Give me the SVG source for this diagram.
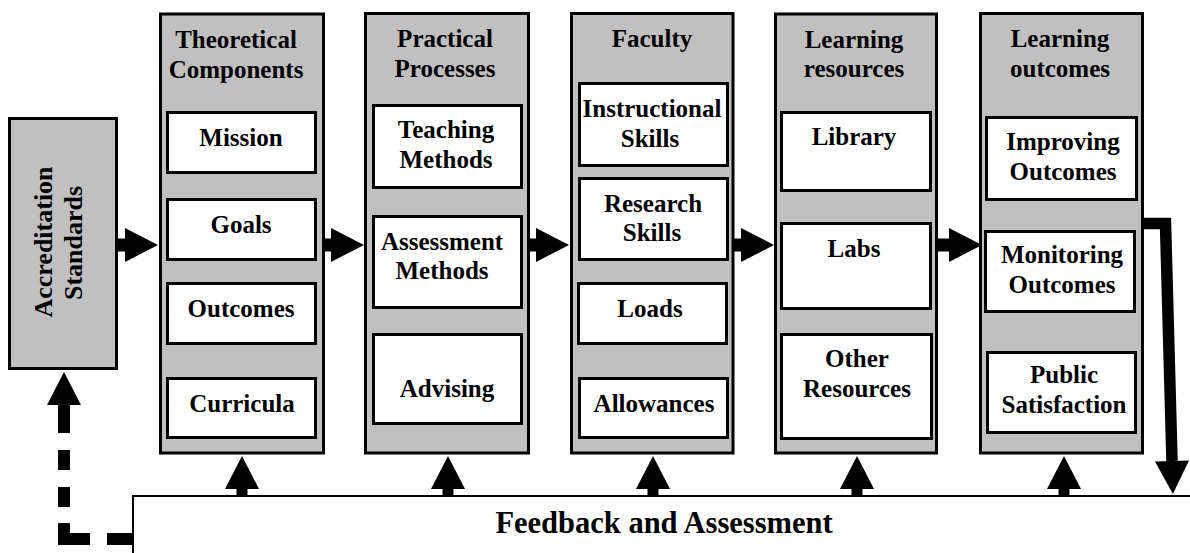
<svg xmlns="http://www.w3.org/2000/svg" width="1190" height="553" viewBox="0 0 1190 553">
  <defs>
    <style>
      .col { fill: #c0c0c0; stroke: #000; stroke-width: 3; }
      .item { fill: #fff; stroke: #000; stroke-width: 3; }
      .lbl { font-family: "Liberation Serif", "Times New Roman", serif; font-weight: bold; font-size: 25px; fill: #000; text-anchor: middle; }
      .big { font-size: 30.5px; }
      .std { font-size: 26px; }
      .flow { fill: none; stroke: #000; stroke-width: 13; stroke-linejoin: miter; marker-end: url(#head); }
      .up { fill: none; stroke: #000; stroke-width: 11; marker-end: url(#head); }
      .dash { fill: none; stroke: #000; stroke-width: 12; stroke-linecap: butt; stroke-linejoin: miter; }
    </style>
    <marker id="head" markerUnits="userSpaceOnUse" markerWidth="34" markerHeight="34" refX="0" refY="17" orient="auto" overflow="visible">
      <path d="M0,0 L33,17 L0,34 Z" fill="#000"/>
    </marker>
  </defs>

  <rect width="1190" height="553" fill="#fff"/>

  <!-- Feedback and Assessment (runs off the bottom/right edge) -->
  <g id="feedback">
    <rect x="133" y="496" width="1100" height="100" fill="#fff" stroke="#000" stroke-width="2"/>
    <text class="lbl big" x="664" y="533">Feedback and Assessment</text>
  </g>

  <!-- Accreditation Standards -->
  <g id="accreditation">
    <rect class="col" x="9.5" y="118.5" width="107" height="250"/>
    <text class="lbl std" transform="translate(52,242) rotate(-90)">Accreditation</text>
    <text class="lbl std" transform="translate(82,243) rotate(-90)">Standards</text>
  </g>

  <!-- Theoretical Components -->
  <g id="theoretical">
    <rect class="col" x="160.5" y="14" width="163" height="439"/>
    <text class="lbl" x="236" y="48">Theoretical</text>
    <text class="lbl" x="236" y="78">Components</text>
    <g id="mission"><rect class="item" x="167.5" y="112.5" width="148" height="60"/><text class="lbl" x="241" y="146">Mission</text></g>
    <g id="goals"><rect class="item" x="167.5" y="199.5" width="148" height="60"/><text class="lbl" x="241" y="233">Goals</text></g>
    <g id="outcomes"><rect class="item" x="167.5" y="283.5" width="148" height="60"/><text class="lbl" x="241" y="317">Outcomes</text></g>
    <g id="curricula"><rect class="item" x="167.5" y="378.5" width="148" height="59"/><text class="lbl" x="242" y="412">Curricula</text></g>
  </g>

  <!-- Practical Processes -->
  <g id="practical">
    <rect class="col" x="365.5" y="13.5" width="163" height="439.5"/>
    <text class="lbl" x="445" y="47">Practical</text>
    <text class="lbl" x="445" y="77">Processes</text>
    <g id="teaching"><rect class="item" x="373.5" y="105.5" width="148" height="82"/><text class="lbl" x="446" y="138">Teaching</text><text class="lbl" x="446" y="168">Methods</text></g>
    <g id="assessment"><rect class="item" x="373.5" y="216.5" width="148" height="91"/><text class="lbl" x="442" y="250">Assessment</text><text class="lbl" x="442" y="279">Methods</text></g>
    <g id="advising"><rect class="item" x="373.5" y="334.5" width="148" height="89"/><text class="lbl" x="447" y="397">Advising</text></g>
  </g>

  <!-- Faculty -->
  <g id="faculty">
    <rect class="col" x="571.5" y="13.5" width="161.5" height="439.5"/>
    <text class="lbl" x="652" y="47">Faculty</text>
    <g id="instructional"><rect class="item" x="579.5" y="83.5" width="148" height="82"/><text class="lbl" x="652" y="117">Instructional</text><text class="lbl" x="650" y="147">Skills</text></g>
    <g id="research"><rect class="item" x="579.5" y="178.5" width="148" height="81"/><text class="lbl" x="653" y="212">Research</text><text class="lbl" x="652" y="241">Skills</text></g>
    <g id="loads"><rect class="item" x="578.5" y="283.5" width="148" height="60"/><text class="lbl" x="650" y="317">Loads</text></g>
    <g id="allowances"><rect class="item" x="579.5" y="378.5" width="148" height="59"/><text class="lbl" x="654" y="412">Allowances</text></g>
  </g>

  <!-- Learning resources -->
  <g id="resources">
    <rect class="col" x="775.5" y="14" width="161" height="439"/>
    <text class="lbl" x="854" y="48">Learning</text>
    <text class="lbl" x="854" y="77">resources</text>
    <g id="library"><rect class="item" x="781.5" y="112.5" width="149" height="78"/><text class="lbl" x="854" y="145">Library</text></g>
    <g id="labs"><rect class="item" x="781.5" y="223.5" width="149" height="85"/><text class="lbl" x="854" y="257">Labs</text></g>
    <g id="other"><rect class="item" x="781.5" y="334.5" width="150" height="104"/><text class="lbl" x="857" y="367">Other</text><text class="lbl" x="857" y="397">Resources</text></g>
  </g>

  <!-- Learning outcomes -->
  <g id="learning-outcomes">
    <rect class="col" x="980.5" y="13.5" width="162" height="439.5"/>
    <text class="lbl" x="1060" y="47">Learning</text>
    <text class="lbl" x="1060" y="77">outcomes</text>
    <g id="improving"><rect class="item" x="986.5" y="117.5" width="150" height="82"/><text class="lbl" x="1063" y="150">Improving</text><text class="lbl" x="1063" y="180">Outcomes</text></g>
    <g id="monitoring"><rect class="item" x="985.5" y="231.5" width="149" height="80"/><text class="lbl" x="1062" y="263">Monitoring</text><text class="lbl" x="1062" y="293">Outcomes</text></g>
    <g id="public"><rect class="item" x="987.5" y="352.5" width="148" height="80"/><text class="lbl" x="1064" y="383">Public</text><text class="lbl" x="1064" y="413">Satisfaction</text></g>
  </g>

  <!-- Connectors -->
  <g id="connectors">
    <!-- main flow, left to right -->
    <path class="flow" d="M118,245 H125"/>
    <path class="flow" d="M324,245 H331"/>
    <path class="flow" d="M529,245 H536"/>
    <path class="flow" d="M733,245 H741"/>
    <path class="flow" d="M937,245 H949"/>
    <!-- outcomes back down into feedback -->
    <path d="M1143,223.5 H1165.5 L1172,461" fill="none" stroke="#000" stroke-width="11.5" stroke-linejoin="miter" marker-end="url(#head)"/>
    <!-- feedback up into each stage -->
    <path class="up" d="M242,496 V489"/>
    <path class="up" d="M448,496 V489"/>
    <path class="up" d="M653,496 V489"/>
    <path class="up" d="M857,496 V489"/>
    <path class="up" d="M1064,496 V489"/>
    <!-- dashed loop back to the standards -->
    <path class="dash" d="M64,433 V405 M64,450 V470 M64,487 V507 M64,523 V539 H90 M107,539 H133"/>
    <path d="M64,410 V405" fill="none" stroke="#000" stroke-width="12" marker-end="url(#head)"/>
  </g>
</svg>
